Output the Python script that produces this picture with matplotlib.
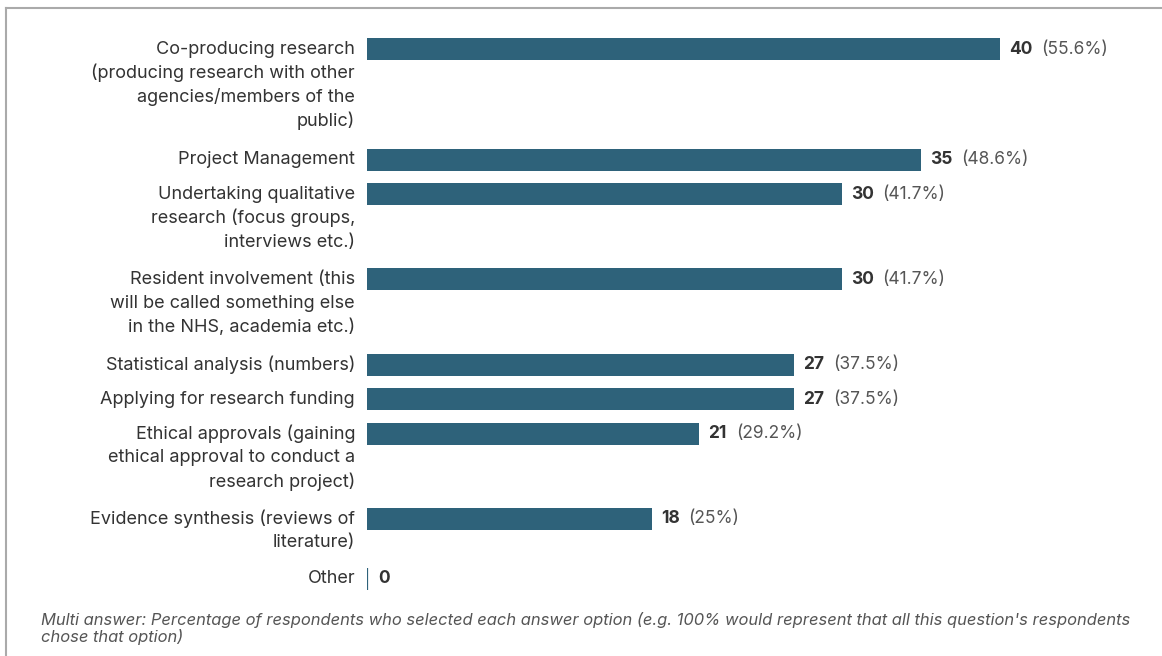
import matplotlib
matplotlib.use("Agg")
import matplotlib.pyplot as plt
from matplotlib.lines import Line2D

plt.rcParams["font.family"] = ["Inter", "DejaVu Sans"]

# data
categories = [
    "Co-producing research\n(producing research with other\nagencies/members of the\npublic)",
    "Project Management",
    "Undertaking qualitative\nresearch (focus groups,\ninterviews etc.)",
    "Resident involvement (this\nwill be called something else\nin the NHS, academia etc.)",
    "Statistical analysis (numbers)",
    "Applying for research funding",
    "Ethical approvals (gaining\nethical approval to conduct a\nresearch project)",
    "Evidence synthesis (reviews of\nliterature)",
    "Other",
]
counts = [40, 35, 30, 30, 27, 27, 21, 18, 0]
percents = [55.6, 48.6, 41.7, 41.7, 37.5, 37.5, 29.2, 25, None]

footnote = ("Multi answer: Percentage of respondents who selected each answer option "
            "(e.g. 100% would represent that all this question's respondents\n"
            "chose that option)")

BAR_COLOR = "#2e627a"
TEXT_COLOR = "#333333"
SUB_COLOR = "#555555"

W, H = 1162, 656
fig = plt.figure(figsize=(W / 100, H / 100), dpi=100)

# axes in pixel-like y units, x in answer counts
x0_px = 367
px_per_unit = 15.825
ax = fig.add_axes([x0_px / W, 0, (W - x0_px) / W, 1])
ax.set_xlim(0, (W - x0_px) / px_per_unit)
ax.set_ylim(H, 0)
ax.axis("off")

# row centres follow the number of label lines
line_h = 24
centres = []
y = 49
for lab in categories:
    centres.append(y)
    y += 25.3 * len(lab.split("\n")) + 9.3

bar_h = 22
ax.barh(centres, counts, height=bar_h, color=BAR_COLOR)

for lab, c, n, p in zip(categories, centres, counts, percents):
    for k, line in enumerate(lab.split("\n")):
        ax.annotate(line, xy=(0, c + k * line_h), xytext=(-12, 0),
                    textcoords="offset pixels", ha="right", va="center",
                    fontsize=13, color=TEXT_COLOR)
    if n == 0:
        ax.plot([0, 0], [c - bar_h / 2, c + bar_h / 2], color=BAR_COLOR, lw=1.6,
                solid_capstyle="butt")
        off = 11
    else:
        off = 9
    num = ax.annotate(str(n), xy=(n, c), xytext=(off, 0), textcoords="offset pixels",
                      ha="left", va="center", fontsize=12.5, fontweight="bold",
                      color=TEXT_COLOR)
    if p is not None:
        ax.annotate(f"({p:g}%)", xy=(1, 0.5), xycoords=num, xytext=(9, 0),
                    textcoords="offset pixels", ha="left", va="center",
                    fontsize=12.5, color=SUB_COLOR)

fig.text(41 / W, 1 - 612 / H, footnote, ha="left", va="top", fontsize=11.9,
         style="italic", color=SUB_COLOR, linespacing=1.1)

# frame lines at top and left
fig.add_artist(Line2D([6 / W, 1], [1 - 8 / H, 1 - 8 / H], color="#aaaaaa", lw=1.5))
fig.add_artist(Line2D([6 / W, 6 / W], [1 - 8 / H, 0], color="#aaaaaa", lw=1.5))

fig.savefig("out.png", dpi=100)
